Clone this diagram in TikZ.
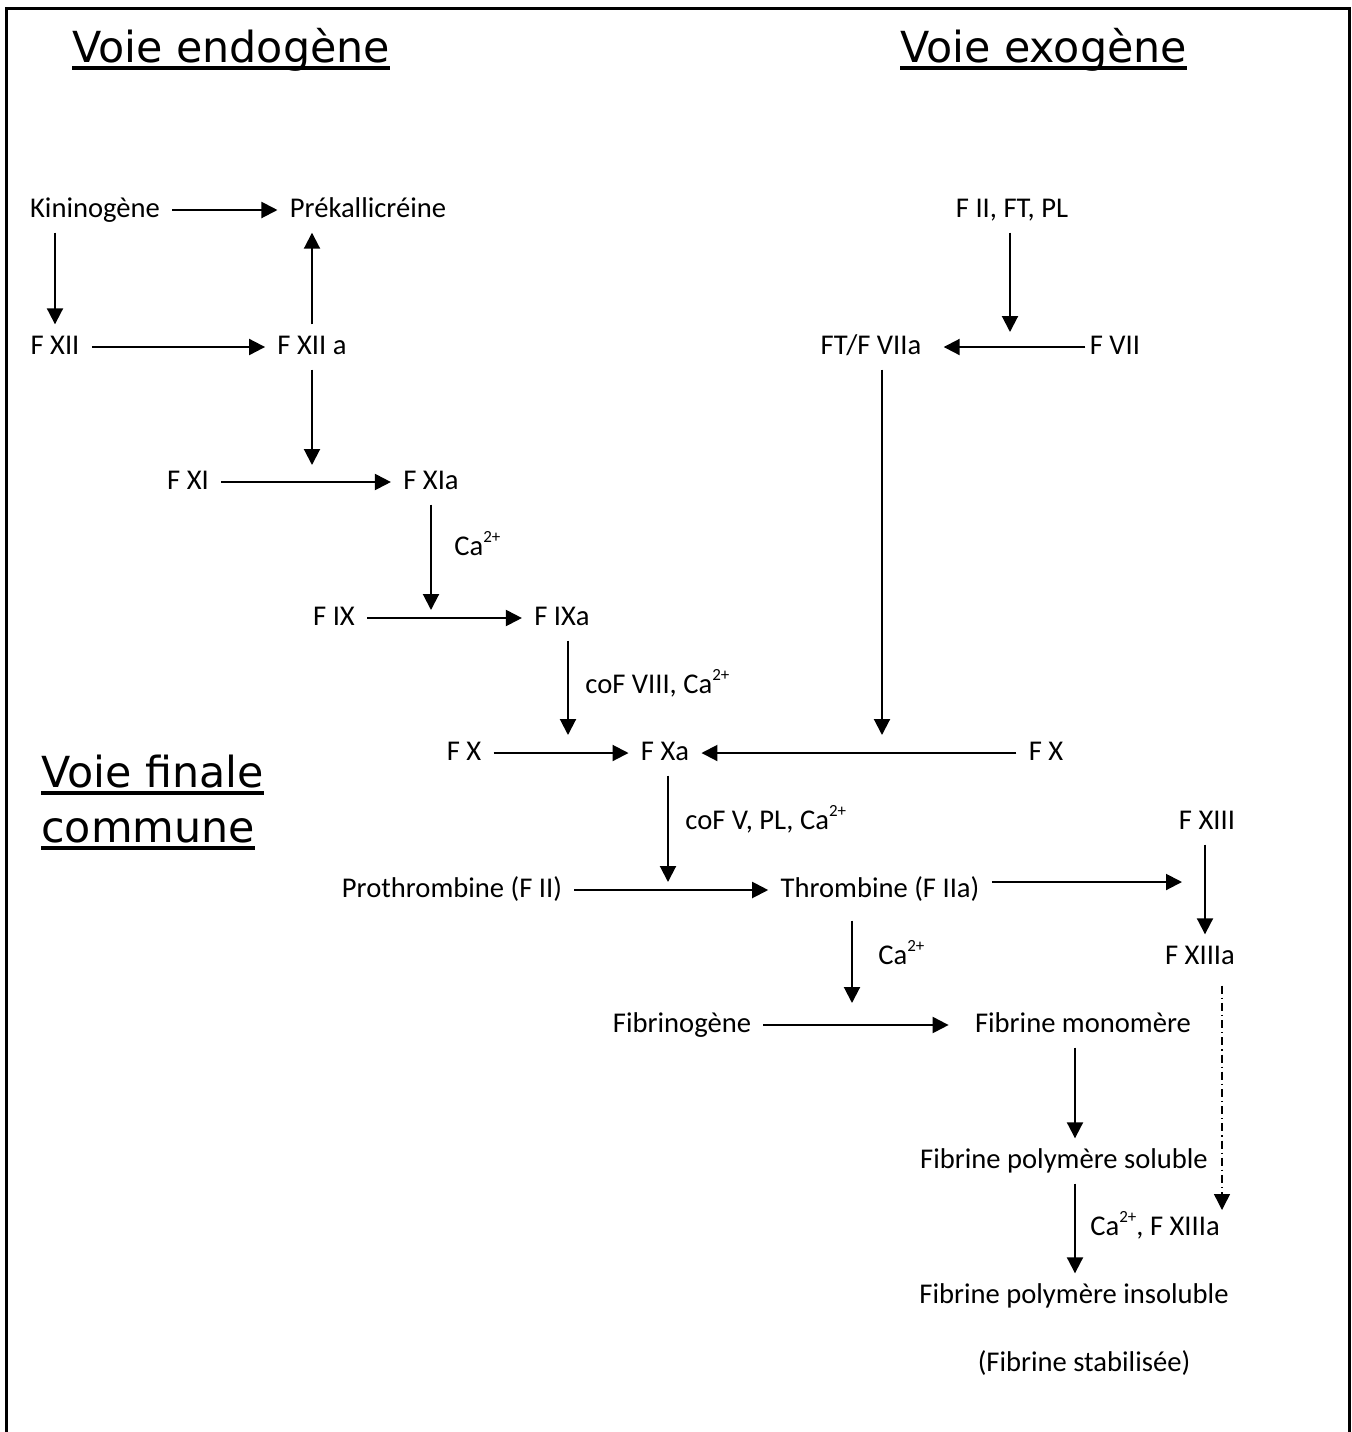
\documentclass[tikz,border=0pt]{standalone}
\usepackage{fontspec}
\setmainfont{Carlito}
\newfontfamily\titlefont{DejaVu Sans}
\usetikzlibrary{arrows.meta,calc}
\newcommand\myul[1]{\setbox0\hbox{#1}\rlap{\rule[-0.18em]{\wd0}{0.08em}}\box0}
\newcommand\myca{Ca\raisebox{0.45em}{\fontsize{8.5pt}{8.5pt}\selectfont 2+}}
\begin{document}
\begin{tikzpicture}[x=0.5pt,y=-0.5pt,
  lbl/.style={font=\fontsize{14.3pt}{17pt}\selectfont, inner xsep=6pt, inner ysep=4pt, text height=10.7pt, text depth=3.6pt},
  note/.style={lbl, anchor=west, inner xsep=0pt},
  arr/.style={line width=1pt, -{Triangle[length=8pt,width=8pt]}},
  dasharr/.style={line width=0.7pt, dash pattern=on 4pt off 2pt on 0.6pt off 2pt, -{Triangle[length=8pt,width=8pt]}},
  ttl/.style={font=\titlefont\fontsize{21.4pt}{25pt}\selectfont, anchor=base west, inner sep=0pt}]
\useasboundingbox (0,0) rectangle (1352,1432);
\draw[line width=1.5pt] (6,1432) -- (6,8) -- (1349,8) -- (1349,1432);

% titles
\node[ttl] (t1) at (72,62) {\myul{Voie endogène}};
\node[ttl] (t2) at (900,62) {\myul{Voie exogène}};
\node[ttl] (t3) at (41,787) {\myul{Voie finale}};
\node[ttl] (t4) at (41,842) {\myul{commune}};

% nodes
\node[lbl] (kin) at (95,210) {Kininogène};
\node[lbl] (prek) at (368,210) {Prékallicréine};
\node[lbl] (f2ft) at (1012,210) {F II, FT, PL};
\node[lbl] (fxii) at (55,347) {F XII};
\node[lbl] (fxiia) at (312,347) {F XII a};
\node[lbl] (ftf) at (871,347) {FT/F VIIa};
\node[lbl] (fvii) at (1115,347) {F VII};
\node[lbl] (fxi) at (188,482) {F XI};
\node[lbl] (fxia) at (431,482) {F XIa};
\node[lbl] (fix) at (334,618) {F IX};
\node[lbl] (fixa) at (562,618) {F IXa};
\node[lbl] (fxl) at (464,753) {F X};
\node[lbl] (fxa) at (665,753) {F Xa};
\node[lbl] (fxr) at (1046,753) {F X};
\node[lbl] (fxiii) at (1207,822) {F XIII};
\node[lbl] (proth) at (452,890) {Prothrombine (F II)};
\node[lbl] (thromb) at (880,890) {Thrombine (F IIa)};
\node[lbl] (fxiiia) at (1200,957) {F XIIIa};
\node[lbl] (fibno) at (682,1025) {Fibrinogène};
\node[lbl] (fibmo) at (1083,1025) {Fibrine monomère};
\node[lbl] (fps) at (1064,1161) {Fibrine polymère soluble};
\node[lbl] (fpi) at (1074,1296) {Fibrine polymère insoluble};
\node[lbl] (stab) at (1084,1364) {(Fibrine stabilisée)};

% labels
\node[note] (ca1) at (454,548) {\myca};
\node[note] (cof8) at (585,686) {coF VIII, \myca};
\node[note] (cof5) at (685,822) {coF V, PL, \myca};
\node[note] (ca2) at (878,957) {\myca};
\node[note] (ca3) at (1090,1228) {\myca, F XIIIa};

% free ends
\coordinate (c1) at (312,465);
\coordinate (c2) at (431,610);
\coordinate (c3) at (568,735);
\coordinate (c4) at (1010,332);
\coordinate (c5) at (882,735);
\coordinate (c6) at (668,882);
\coordinate (c7) at (852,1003);
\coordinate (ct) at (1182,882);
\coordinate (c9) at (1222,1210);

% horizontal arrows
\draw[arr] (kin) -- (prek);
\draw[arr] (fxii) -- (fxiia);
\draw[arr] (fxi) -- (fxia);
\draw[arr] (fix) -- (fixa);
\draw[arr] (fxl) -- (fxa);
\draw[arr] (fxr) -- (fxa);
\draw[arr, shorten <=-4pt, shorten >=5pt] (fvii) -- (ftf);
\draw[arr] (proth) -- (thromb);
\draw[arr, shorten >=7pt] (fibno) -- (fibmo);
\draw[arr] ($(thromb.east)+(0,-8)$) -- (ct);

% vertical arrows
\draw[arr] (kin.south -| fxii) -- (fxii);
\draw[arr] (fxiia) -- (prek.south -| fxiia);
\draw[arr] (fxiia) -- (c1);
\draw[arr] (fxia) -- (c2);
\draw[arr] ($(fixa.south)+(6,0)$) -- (c3);
\draw[arr] (f2ft.south -| c4) -- (c4);
\draw[arr] ($(ftf.south)+(11,0)$) -- (c5);
\draw[arr] (fxa.south -| c6) -- (c6);
\draw[arr] (fxiii.south -| 1205,0) -- (fxiiia.north -| 1205,0);
\draw[arr] ($(thromb.south)+(-28,8)$) -- (c7);
\draw[arr] ($(fibmo.south)+(-8,0)$) -- ($(fps.north)+(11,0)$);
\draw[arr] ($(fps.south)+(11,0)$) -- ($(fpi.north)+(1,0)$);
\draw[dasharr] ($(fxiiia.south)+(22,6)$) -- (c9);
\end{tikzpicture}
\end{document}
